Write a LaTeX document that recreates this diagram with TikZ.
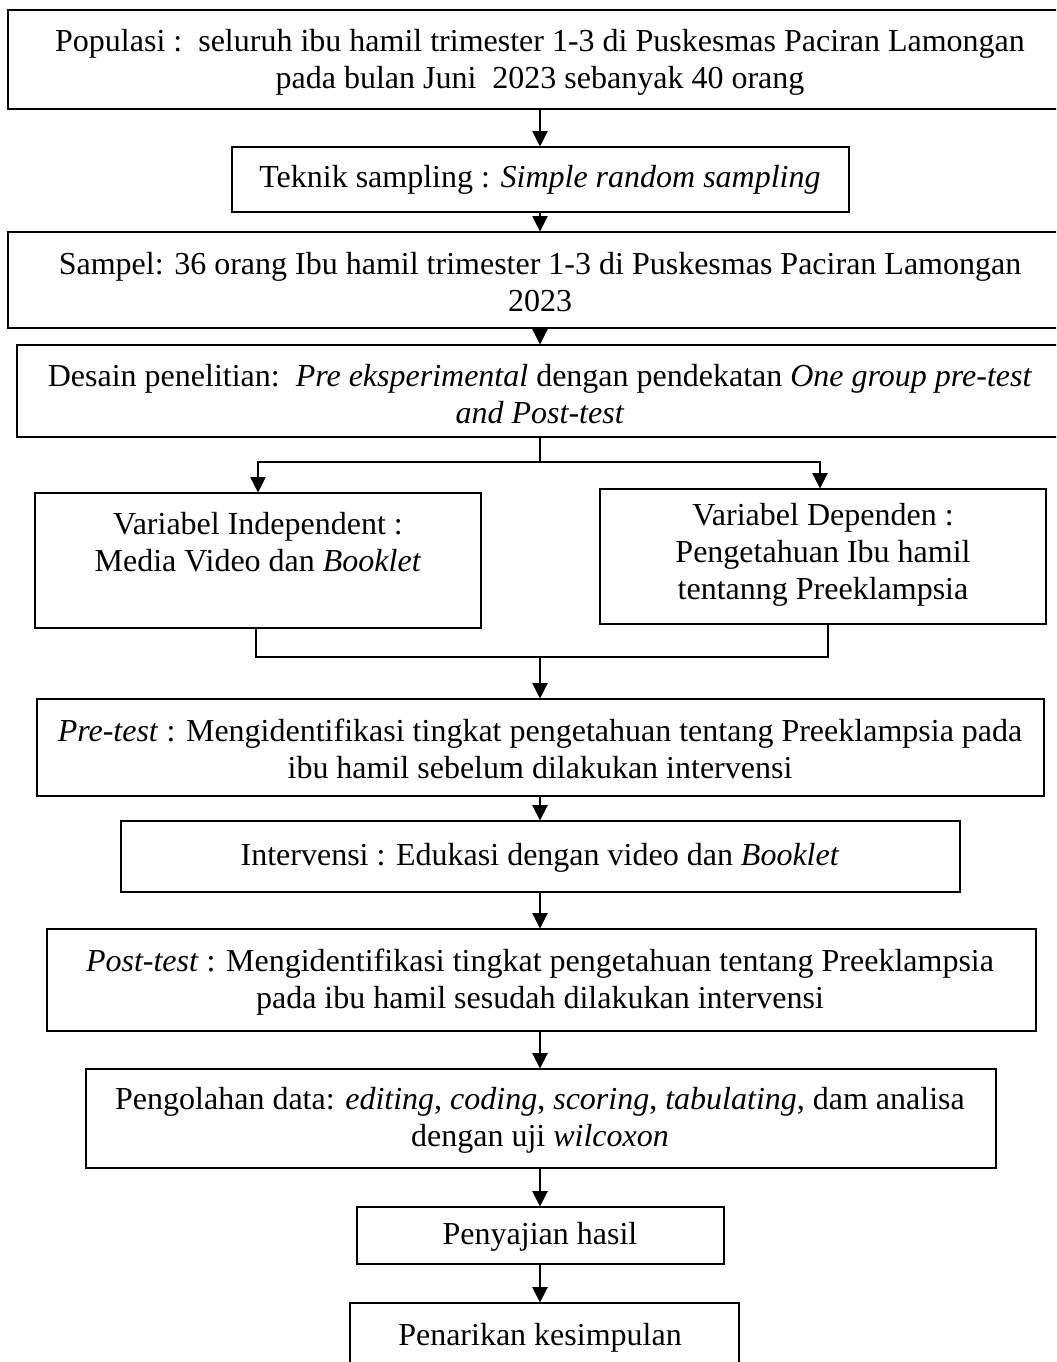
\documentclass[tikz,border=0pt]{standalone}
\usepackage{fontspec}
\setmainfont{Liberation Serif}
\usetikzlibrary{arrows.meta}
\begin{document}
\begin{tikzpicture}[x=0.75pt,y=-0.75pt,
  box/.style={draw, line width=0.8pt, rectangle, inner sep=0pt},
  pbox/.style n args={4}{box, minimum width={(#3-#1)*0.75pt}, minimum height={(#4-#2)*0.75pt}, at={({(#1+#3)/2},{(#2+#4)/2})}},
  txt/.style={align=center, inner sep=0pt, font=\fontsize{24}{27.75}\selectfont},
  arr/.style={-{Triangle[length=11.5pt,width=11.5pt]}, line width=0.8pt},
  link/.style={line width=0.8pt}]
\useasboundingbox (0,0) rectangle (1056,1362);
\clip (0,0) rectangle (1056,1362);
% boxes
\node[pbox={8}{10}{1075}{109}] (b1) {};
\node[pbox={232}{147}{849}{212}] (b2) {};
\node[pbox={8}{232}{1075}{328}] (b3) {};
\node[pbox={17}{345}{1075}{437}] (b4) {};
\node[pbox={35}{493}{481}{628}] (vi) {};
\node[pbox={600}{489}{1046}{624}] (vd) {};
\node[pbox={37}{699}{1044}{796}] (pre) {};
\node[pbox={121}{821}{960}{892}] (int) {};
\node[pbox={47}{929}{1036}{1031}] (post) {};
\node[pbox={86}{1069}{996}{1168}] (peng) {};
\node[pbox={357}{1207}{724}{1264}] (saji) {};
\node[pbox={350}{1303}{739}{1400}] (tarik) {};
% texts
\node[txt] (t1) at (540,62) {Populasi :\ \ seluruh ibu hamil trimester 1-3 di Puskesmas Paciran Lamongan\\pada bulan Juni\ \ 2023 sebanyak 40 orang};
\node[txt] (t2) at (540,180) {Teknik sampling : \textit{Simple random sampling}};
\node[txt] (t3) at (540,282) {Sampel: 36 orang Ibu hamil trimester 1-3 di Puskesmas Paciran Lamongan\\2023};
\node[txt] (t4) at (540,394) {Desain penelitian:\ \ \textit{Pre eksperimental} dengan pendekatan \textit{One group pre-test}\\\textit{and Post-test}};
\node[txt] (t5) at (258,542) {Variabel Independent :\\Media Video dan \textit{Booklet}};
\node[txt] (t6) at (823,555) {Variabel Dependen :\\Pengetahuan Ibu hamil\\tentanng Preeklampsia};
\node[txt] (t7) at (540,749) {\textit{Pre-test} : Mengidentifikasi tingkat pengetahuan tentang Preeklampsia pada\\ibu hamil sebelum dilakukan intervensi};
\node[txt] (t8) at (540,858) {Intervensi : Edukasi dengan video dan \textit{Booklet}};
\node[txt] (t9) at (540,982) {\textit{Post-test} : Mengidentifikasi tingkat pengetahuan tentang Preeklampsia\\pada ibu hamil sesudah dilakukan intervensi};
\node[txt] (t10) at (540,1120) {Pengolahan data: \textit{editing}, \textit{coding}, \textit{scoring}, \textit{tabulating}, dam analisa\\dengan uji \textit{wilcoxon}};
\node[txt] (t11) at (540,1237) {Penyajian hasil};
\node[txt] (t12) at (540,1338) {Penarikan kesimpulan};
% connectors
\coordinate (X) at (540,0);
\coordinate (split) at (540,462);
\coordinate (merge) at (540,657);
\draw[arr] (b1.south -| X) -- (b2.north -| X);
\draw[arr] (b2.south -| X) -- (b3.north -| X);
\draw[arr] (b3.south -| X) -- (b4.north -| X);
\draw[link] (b4.south -| X) -- (split);
\draw[arr] (split) -| (vi.north);
\draw[arr] (split) -| ([xshift=-2.25pt]vd.north);
\draw[link] ([xshift=-1.5pt]vi.south) |- (merge);
\draw[link] ([xshift=3.75pt]vd.south) |- (merge);
\draw[arr] (merge) -- (pre.north -| X);
\draw[arr] (pre.south -| X) -- (int.north -| X);
\draw[arr] (int.south -| X) -- (post.north -| X);
\draw[arr] (post.south -| X) -- (peng.north -| X);
\draw[arr] (peng.south -| X) -- (saji.north -| X);
\draw[arr] (saji.south -| X) -- (tarik.north -| X);
\end{tikzpicture}
\end{document}
